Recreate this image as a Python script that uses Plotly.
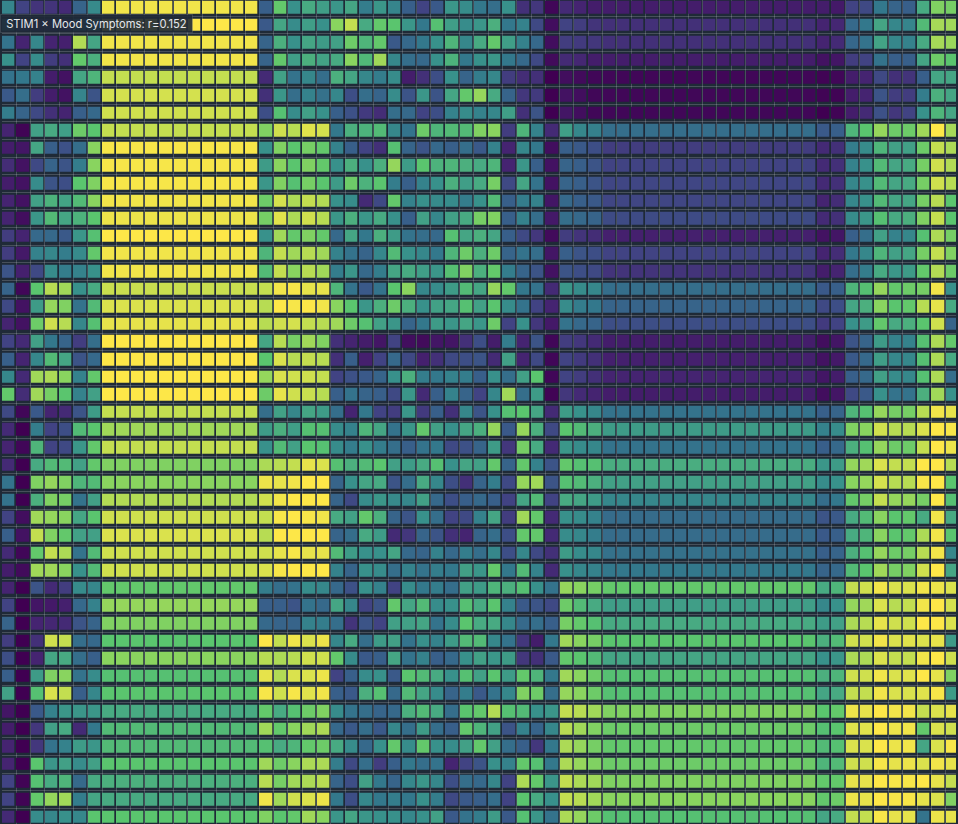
import plotly.graph_objects as go

# values are 0-100
# first seven columns of each row
lead_cols = [
    [45, 20, 15, 15, 12, 32, 47], [44, 20, 16, 16, 14, 40, 52], [38, 10, 46, 10, 9, 87, 58], [50, 20, 48, 18, 14, 72, 62],
    [38, 40, 44, 8, 5, 58, 64], [28, 36, 18, 8, 5, 45, 26], [42, 32, 22, 14, 10, 30, 34], [10, 1, 56, 60, 55, 74, 70],
    [8, 6, 58, 30, 25, 36, 80], [13, 5, 22, 32, 26, 42, 80], [8, 5, 48, 26, 24, 70, 78], [10, 5, 56, 63, 57, 66, 80],
    [10, 4, 52, 66, 58, 63, 70], [18, 10, 34, 34, 28, 52, 68], [18, 7, 44, 46, 42, 47, 72], [26, 9, 22, 48, 42, 44, 50],
    [32, 2, 70, 88, 84, 50, 60], [22, 5, 54, 82, 78, 38, 66], [10, 5, 74, 92, 88, 46, 68], [20, 12, 56, 40, 32, 18, 36],
    [30, 10, 46, 66, 58, 26, 34], [46, 12, 84, 86, 80, 44, 72], [72, 13, 84, 76, 70, 44, 56], [22, 2, 28, 10, 12, 26, 54],
    [12, 0, 42, 20, 24, 66, 70], [10, 2, 64, 20, 22, 52, 72], [12, 0, 60, 66, 66, 56, 72], [38, 0, 78, 82, 78, 64, 66],
    [38, 0, 62, 78, 76, 38, 56], [20, 4, 84, 82, 80, 58, 70], [30, 5, 90, 78, 72, 56, 56], [12, 2, 72, 90, 86, 38, 66],
    [8, 3, 84, 84, 80, 50, 66], [10, 0, 26, 12, 18, 48, 46], [20, 0, 6, 7, 9, 34, 44], [32, 0, 10, 11, 12, 26, 32],
    [18, 0, 14, 92, 90, 36, 34], [24, 0, 10, 58, 60, 36, 30], [30, 0, 54, 78, 80, 38, 48], [56, 0, 68, 94, 90, 30, 46],
    [6, 0, 28, 44, 52, 52, 52], [8, 0, 16, 56, 60, 12, 40], [10, 0, 16, 38, 44, 54, 52], [10, 0, 70, 52, 56, 48, 56],
    [20, 1, 68, 60, 64, 34, 60], [20, 1, 72, 82, 84, 42, 58], [12, 0, 48, 46, 50, 46, 70],
]

# level of the eleven-column band
band_a = [
    98, 100, 98, 98, 90, 93, 92, 90, 99, 99, 99, 98, 97, 100, 98, 98,
    91, 94, 96, 100, 100, 100, 100, 90, 84, 90, 78, 80, 87, 92, 94, 92,
    92, 72, 82, 78, 70, 80, 68, 70, 60, 66, 66, 70, 62, 60, 70,
]

# the 24 columns between the two bands
mid_cols = [
    [30, 72, 50, 60, 55, 52, 58, 42, 52, 45, 30, 20, 28, 52, 48, 40, 36, 50, 14, 16, 2, 12, 10, 8],
    [28, 58, 48, 55, 50, 80, 90, 60, 72, 70, 52, 40, 68, 55, 48, 52, 62, 40, 44, 22, 4, 20, 18, 15],
    [32, 62, 50, 58, 54, 56, 74, 64, 72, 28, 34, 40, 50, 64, 46, 60, 72, 55, 44, 34, 4, 18, 17, 16],
    [32, 72, 55, 62, 57, 60, 80, 65, 84, 46, 36, 34, 50, 63, 40, 50, 52, 40, 34, 22, 3, 12, 11, 8],
    [12, 56, 38, 46, 36, 62, 58, 46, 42, 48, 8, 14, 24, 50, 32, 42, 46, 18, 13, 14, 0, 4, 3, 2],
    [14, 52, 36, 44, 37, 46, 24, 36, 32, 48, 26, 52, 26, 58, 72, 82, 60, 32, 16, 17, 0, 5, 4, 2],
    [24, 68, 48, 56, 50, 30, 25, 17, 13, 36, 34, 20, 24, 44, 48, 44, 46, 55, 14, 26, 0, 6, 4, 2],
    [78, 92, 88, 95, 93, 40, 62, 63, 66, 46, 38, 74, 64, 66, 66, 78, 80, 18, 64, 44, 12, 55, 46, 43],
    [50, 78, 70, 76, 72, 44, 30, 20, 14, 68, 32, 26, 34, 30, 36, 28, 44, 10, 46, 40, 4, 30, 28, 24],
    [54, 80, 70, 78, 72, 50, 62, 50, 62, 82, 54, 70, 63, 64, 62, 60, 64, 10, 52, 30, 5, 32, 30, 26],
    [52, 78, 68, 76, 70, 54, 74, 63, 70, 42, 30, 44, 50, 62, 55, 60, 76, 22, 58, 38, 5, 32, 30, 26],
    [74, 93, 86, 90, 87, 50, 48, 12, 22, 72, 44, 50, 47, 48, 42, 50, 66, 30, 42, 44, 6, 34, 30, 28],
    [76, 95, 86, 92, 88, 52, 62, 52, 60, 50, 30, 56, 46, 56, 60, 76, 78, 30, 44, 36, 7, 36, 34, 32],
    [50, 84, 72, 78, 72, 34, 58, 40, 62, 54, 38, 36, 34, 68, 58, 62, 58, 30, 22, 16, 3, 18, 15, 13],
    [64, 90, 84, 88, 84, 44, 38, 32, 46, 66, 50, 46, 40, 64, 74, 62, 74, 32, 38, 36, 6, 30, 26, 24],
    [66, 90, 80, 88, 84, 42, 52, 34, 42, 58, 60, 55, 52, 68, 78, 62, 72, 42, 32, 26, 5, 26, 24, 22],
    [90, 98, 99, 96, 96, 64, 38, 28, 38, 70, 80, 46, 48, 54, 66, 58, 82, 72, 40, 38, 12, 52, 48, 46],
    [88, 100, 99, 100, 98, 80, 70, 52, 62, 74, 62, 50, 56, 58, 68, 56, 70, 48, 38, 20, 10, 48, 42, 40],
    [88, 92, 93, 90, 88, 84, 74, 68, 56, 52, 32, 40, 54, 52, 58, 52, 74, 20, 50, 16, 7, 38, 34, 32],
    [58, 88, 76, 84, 78, 14, 10, 8, 6, 20, 4, 3, 6, 6, 14, 24, 8, 42, 10, 26, 2, 18, 16, 12],
    [70, 94, 88, 90, 88, 14, 30, 9, 20, 34, 22, 9, 14, 22, 24, 26, 12, 56, 10, 22, 2, 20, 17, 14],
    [82, 94, 92, 92, 90, 20, 25, 28, 32, 50, 62, 42, 40, 44, 42, 30, 50, 36, 56, 70, 2, 20, 18, 14],
    [74, 96, 92, 91, 88, 30, 38, 32, 30, 22, 52, 12, 30, 44, 32, 20, 46, 84, 36, 54, 1, 16, 12, 10],
    [36, 56, 46, 58, 54, 36, 10, 40, 20, 18, 52, 17, 30, 14, 46, 26, 50, 68, 70, 58, 12, 54, 50, 46],
    [54, 62, 55, 68, 68, 48, 44, 64, 58, 38, 52, 72, 56, 50, 58, 62, 82, 28, 82, 62, 22, 70, 66, 62],
    [50, 66, 56, 70, 68, 48, 42, 50, 42, 36, 30, 38, 40, 22, 25, 32, 54, 16, 76, 60, 12, 52, 48, 46],
    [86, 88, 90, 96, 94, 68, 62, 66, 70, 56, 54, 60, 68, 50, 58, 56, 72, 32, 72, 44, 26, 72, 68, 68],
    [97, 96, 98, 100, 100, 32, 50, 58, 60, 26, 36, 60, 46, 24, 14, 32, 42, 22, 82, 84, 26, 68, 66, 62],
    [92, 98, 100, 100, 100, 32, 22, 48, 52, 47, 46, 56, 34, 24, 30, 34, 30, 20, 58, 66, 20, 60, 58, 54],
    [90, 99, 100, 99, 98, 60, 56, 72, 62, 32, 26, 50, 36, 20, 22, 44, 58, 18, 84, 72, 12, 50, 48, 44],
    [88, 100, 100, 100, 100, 32, 36, 60, 54, 12, 16, 32, 26, 14, 10, 32, 36, 24, 72, 72, 12, 48, 46, 42],
    [92, 96, 99, 96, 96, 66, 54, 50, 50, 58, 34, 32, 44, 34, 42, 36, 46, 24, 46, 22, 14, 54, 48, 46],
    [94, 99, 100, 100, 100, 44, 32, 50, 48, 36, 44, 38, 42, 40, 56, 52, 72, 40, 66, 44, 12, 50, 46, 44],
    [42, 36, 38, 48, 46, 34, 25, 50, 44, 20, 48, 40, 42, 36, 56, 54, 64, 62, 68, 50, 38, 82, 80, 76],
    [30, 30, 26, 38, 34, 58, 46, 20, 26, 72, 58, 66, 48, 50, 68, 60, 70, 44, 28, 26, 22, 74, 66, 60],
    [34, 32, 32, 44, 42, 36, 15, 26, 20, 56, 56, 58, 38, 48, 70, 60, 60, 46, 34, 36, 30, 76, 72, 68],
    [100, 90, 98, 94, 97, 46, 60, 36, 54, 56, 38, 50, 44, 54, 66, 66, 46, 38, 16, 8, 40, 84, 80, 76],
    [88, 86, 88, 92, 92, 72, 48, 28, 30, 58, 38, 44, 30, 34, 50, 56, 52, 54, 16, 14, 28, 72, 70, 66],
    [96, 87, 94, 94, 97, 20, 30, 48, 50, 28, 70, 66, 60, 50, 68, 56, 70, 54, 72, 64, 40, 84, 80, 74],
    [99, 92, 99, 95, 98, 30, 28, 62, 68, 34, 66, 58, 48, 32, 42, 28, 38, 46, 78, 74, 36, 82, 80, 74],
    [72, 60, 68, 74, 78, 48, 38, 36, 32, 34, 62, 66, 60, 36, 70, 72, 87, 68, 66, 50, 52, 90, 88, 84],
    [84, 72, 80, 84, 86, 34, 28, 36, 28, 46, 36, 54, 36, 30, 72, 64, 56, 26, 44, 32, 46, 88, 84, 78],
    [68, 60, 64, 72, 74, 60, 48, 34, 50, 72, 48, 72, 50, 48, 56, 72, 56, 36, 30, 16, 40, 86, 82, 76],
    [84, 74, 80, 86, 86, 42, 22, 36, 18, 30, 40, 36, 38, 10, 20, 26, 50, 44, 72, 68, 40, 86, 82, 78],
    [88, 76, 84, 86, 88, 32, 24, 56, 40, 32, 46, 52, 46, 24, 36, 34, 46, 20, 86, 72, 52, 90, 86, 84],
    [98, 84, 92, 94, 97, 40, 24, 46, 40, 42, 40, 50, 42, 22, 28, 30, 36, 20, 70, 60, 50, 90, 88, 84],
    [78, 70, 72, 84, 80, 52, 58, 52, 50, 50, 46, 50, 56, 28, 38, 42, 54, 28, 68, 52, 38, 86, 82, 74],
]

# level of the fifteen-column band
band_b = [
    8, 14, 14, 8, 2, 2, 2, 36, 18, 20, 21, 21, 23, 9, 20, 15,
    36, 32, 24, 8, 9, 10, 8, 38, 54, 38, 61, 56, 46, 35, 35, 37,
    40, 72, 55, 60, 70, 58, 68, 68, 78, 74, 72, 74, 78, 80, 68,
]

# last ten columns
tail_cols = [
    [8, 7, 20, 22, 40, 32, 30, 60, 78, 76],
    [10, 11, 34, 40, 58, 46, 45, 66, 85, 84],
    [10, 12, 33, 38, 57, 46, 44, 60, 85, 83],
    [5, 6, 18, 20, 38, 30, 30, 58, 74, 70],
    [1, 2, 8, 10, 22, 14, 15, 30, 58, 58],
    [1, 1, 8, 10, 26, 18, 18, 42, 62, 58],
    [0, 1, 8, 12, 25, 16, 20, 50, 64, 58],
    [28, 30, 64, 70, 82, 74, 74, 84, 100, 85],
    [12, 14, 42, 48, 64, 56, 56, 74, 90, 86],
    [12, 14, 44, 50, 66, 58, 60, 76, 92, 87],
    [12, 14, 46, 50, 66, 58, 60, 76, 92, 88],
    [10, 13, 46, 50, 66, 58, 58, 76, 88, 70],
    [12, 14, 48, 52, 68, 60, 62, 78, 90, 70],
    [5, 6, 30, 36, 56, 44, 46, 68, 86, 76],
    [10, 13, 40, 46, 64, 56, 58, 76, 90, 78],
    [8, 10, 36, 42, 60, 52, 54, 72, 87, 74],
    [28, 30, 64, 68, 82, 72, 74, 76, 98, 50],
    [22, 24, 58, 62, 80, 70, 72, 88, 96, 60],
    [17, 20, 50, 54, 72, 60, 62, 70, 92, 32],
    [4, 6, 26, 32, 54, 44, 44, 68, 86, 72],
    [5, 7, 28, 34, 55, 46, 46, 68, 86, 60],
    [6, 8, 30, 34, 56, 48, 46, 68, 86, 36],
    [4, 6, 22, 28, 50, 38, 38, 62, 84, 50],
    [30, 32, 64, 68, 82, 76, 76, 88, 98, 96],
    [44, 48, 78, 80, 92, 88, 88, 94, 100, 99],
    [30, 34, 62, 68, 82, 74, 74, 90, 100, 97],
    [52, 54, 82, 84, 94, 90, 90, 100, 100, 88],
    [48, 50, 80, 82, 93, 88, 88, 99, 100, 70],
    [36, 40, 72, 76, 90, 82, 82, 76, 100, 68],
    [26, 28, 60, 66, 80, 70, 72, 60, 98, 60],
    [28, 30, 60, 64, 80, 70, 72, 86, 98, 70],
    [30, 32, 62, 68, 82, 74, 76, 88, 98, 46],
    [32, 34, 66, 70, 84, 76, 78, 92, 100, 58],
    [60, 64, 90, 92, 98, 94, 94, 98, 97, 94],
    [46, 50, 82, 84, 94, 88, 90, 98, 100, 93],
    [54, 56, 86, 88, 96, 92, 92, 100, 100, 94],
    [62, 66, 92, 92, 98, 94, 95, 94, 96, 54],
    [50, 52, 86, 86, 94, 90, 90, 98, 100, 92],
    [62, 64, 92, 92, 98, 94, 95, 100, 96, 78],
    [58, 60, 90, 90, 98, 94, 94, 95, 99, 54],
    [70, 72, 97, 96, 100, 98, 98, 90, 94, 96],
    [68, 70, 95, 95, 100, 97, 98, 72, 94, 92],
    [66, 68, 94, 94, 100, 97, 98, 58, 94, 99],
    [64, 66, 92, 92, 99, 96, 97, 94, 98, 96],
    [72, 72, 96, 96, 100, 99, 99, 100, 96, 90],
    [72, 74, 97, 96, 100, 99, 99, 96, 94, 78],
    [58, 60, 90, 90, 99, 96, 96, 38, 97, 96],
]

# viridis as it looks in the screenshot
colores = [
    [0.0, "rgb(64,0,82)"], [0.1, "rgb(69,36,113)"], [0.2, "rgb(65,67,131)"], [0.3, "rgb(56,95,138)"],
    [0.4, "rgb(51,120,140)"], [0.5, "rgb(56,145,139)"], [0.6, "rgb(72,170,130)"], [0.7, "rgb(90,197,110)"],
    [0.8, "rgb(137,212,95)"], [0.9, "rgb(195,222,80)"], [1.0, "rgb(253,231,72)"],
]

tooltip = "STIM1 × Mood Symptoms: r=0.152"

z = []
for fila in range(len(lead_cols)):
    z.append(
        lead_cols[fila]
        + [band_a[fila]] * 11
        + mid_cols[fila]
        + [band_b[fila]] * 15
        + tail_cols[fila]
    )

fig = go.Figure(
    go.Heatmap(
        z=z,
        colorscale=colores,
        zmin=0,
        zmax=100,
        xgap=1.7,
        ygap=5,
        showscale=False,
        hoverinfo="skip",
    )
)

fig.update_xaxes(
    range=[-0.5, 66.22],
    tick0=-0.5,
    dtick=1,
    showticklabels=False,
    ticks="",
    zeroline=False,
    gridcolor="rgba(255,255,255,0.18)",
    gridwidth=1,
)
fig.update_yaxes(
    range=[46.39, -0.426],
    tick0=-0.5,
    dtick=1,
    showticklabels=False,
    ticks="",
    zeroline=False,
    gridcolor="rgba(255,255,255,0.18)",
    gridwidth=1,
)

fig.add_annotation(
    text=tooltip,
    xref="paper",
    yref="paper",
    x=-2 / 954,
    y=1 - 24 / 824,
    xanchor="left",
    yanchor="middle",
    showarrow=False,
    width=191,
    height=17,
    align="center",
    font=dict(family="Inter", size=11.2, color="#e5e7eb"),
    bgcolor="rgba(31,41,55,0.9)",
    bordercolor="rgba(255,255,255,0.12)",
    borderwidth=1,
    borderpad=0,
)

fig.update_layout(
    width=958,
    height=824,
    margin=dict(l=2, r=2, t=0, b=0),
    paper_bgcolor="#1f2a37",
    plot_bgcolor="#1f2a37",
    showlegend=False,
)

# the page margin would push the chart off the window
fig.write_html(
    "out.html",
    config={"displayModeBar": False},
    post_script="document.body.style.margin='0'; document.body.style.overflow='hidden';",
)
